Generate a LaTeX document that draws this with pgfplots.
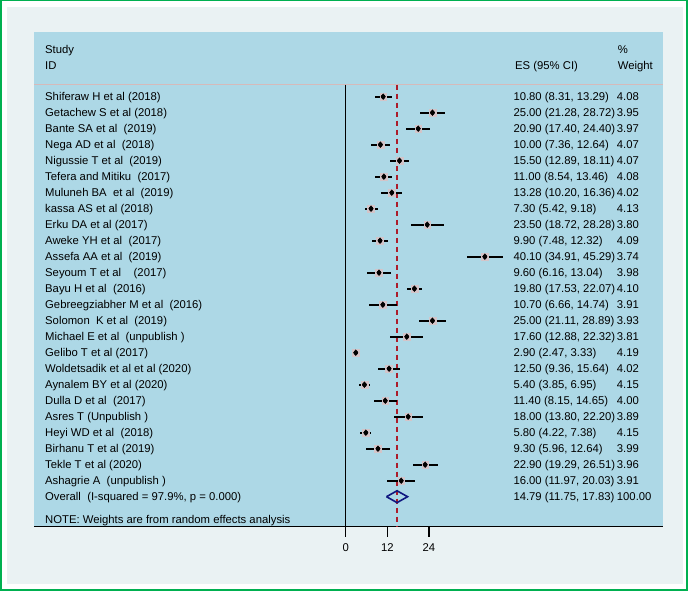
\documentclass[border=0pt]{standalone}
\usepackage{pgfplots}
\pgfplotsset{compat=1.18}
\usepackage{pgfplotstable}
\usepackage{fontspec}
\setmainfont{Liberation Sans}
\definecolor{frame}{RGB}{0,176,80}
\definecolor{outerbg}{RGB}{234,242,243}
\definecolor{panel}{RGB}{173,216,230}
\definecolor{sep}{RGB}{214,186,186}
\definecolor{wbox}{RGB}{212,196,200}
\definecolor{ovred}{RGB}{172,28,42}
\definecolor{ovdia}{RGB}{16,24,128}
\pgfplotstableread{
row es lo hi w
0 10.80 8.31 13.29 4.08
1 25.00 21.28 28.72 3.95
2 20.90 17.40 24.40 3.97
3 10.00 7.36 12.64 4.07
4 15.50 12.89 18.11 4.07
5 11.00 8.54 13.46 4.08
6 13.28 10.20 16.36 4.02
7 7.30 5.42 9.18 4.13
8 23.50 18.72 28.28 3.80
9 9.90 7.48 12.32 4.09
10 40.10 34.91 45.29 3.74
11 9.60 6.16 13.04 3.98
12 19.80 17.53 22.07 4.10
13 10.70 6.66 14.74 3.91
14 25.00 21.11 28.89 3.93
15 17.60 12.88 22.32 3.81
16 2.90 2.47 3.33 4.19
17 12.50 9.36 15.64 4.02
18 5.40 3.85 6.95 4.15
19 11.40 8.15 14.65 4.00
20 18.00 13.80 22.20 3.89
21 5.80 4.22 7.38 4.15
22 9.30 5.96 12.64 3.99
23 22.90 19.29 26.51 3.96
24 16.00 11.97 20.03 3.91
}\studies
\newcommand{\tf}{\fontsize{11.3}{13.5}\selectfont}
\begin{document}
\begin{tikzpicture}[x=1pt,y=1pt]
\useasboundingbox (0,0) rectangle (691,592);
\fill[white] (0,0) rectangle (691,592);
\draw[frame, line width=1.5pt] (0.75,2) rectangle (687,591.25);
\fill[outerbg] (7,8) rectangle (683,585);
\fill[panel] (34.3,65.3) rectangle (663.3,559.5);
\draw[sep, line width=0.9pt] (34.3,{592-84.5}) -- (663.3,{592-84.5});
\begin{axis}[
  at={(34.3pt,65.3pt)}, anchor=south west,
  scale only axis, width=629pt, height=494.2pt,
  xmin=-89.74, xmax=91.53, ymin=-4.01, ymax=26.875, y dir=reverse,
  clip=false,
  axis y line=none,
  axis x line*=bottom,
  x axis line style={-, line width=1.3pt, black},
  xtick={0,12,24},
  tick align=outside,
  major tick length=10pt,
  xtick style={black, line width=1.2pt},
  xticklabel style={font=\tf, yshift=-3pt},
  /pgf/number format/assume math mode=true,
]
% vertical null line
\addplot[black, line width=1.3pt] coordinates {(0,-0.76) (0,26.875)};
% overall dashed line
\addplot[draw=ovred, line width=1.1pt, dash pattern=on 5pt off 4pt] coordinates {(14.79,-0.76) (14.79,26.875)};
% weight boxes
\addplot[only marks, mark=square*, mark size=3.4pt, mark options={draw=wbox, fill=wbox}] table[x=es, y=row] {\studies};
% CIs
\addplot[black, mark=none, only marks, error bars/.cd, x dir=both, x explicit, error mark=none,
  error bar style={line width=2.1pt, draw=black}]
  table[x=es, y=row, x error plus expr={\thisrow{hi}-\thisrow{es}}, x error minus expr={\thisrow{es}-\thisrow{lo}}] {\studies};
% point estimates
\addplot[only marks, mark=diamond*, mark size=2.9pt, mark options={draw=black, fill=black}] table[x=es, y=row] {\studies};
% overall diamond
\addplot[draw=ovdia, line width=1.6pt] coordinates {(11.75,25) (14.79,24.63) (17.83,25) (14.79,25.37) (11.75,25)};
\end{axis}
\tf
\node[anchor=base west, inner sep=0] at (45,{592-50-4}) {Study};
\node[anchor=base west, inner sep=0] at (45,{592-65.7-4}) {ID};
\node[anchor=base west, inner sep=0] at (515,{592-65.7-4}) {ES (95\% CI)};
\node[anchor=base west, inner sep=0] at (617.7,{592-49.3-4}) {\%};
\node[anchor=base west, inner sep=0] at (617.7,{592-65.7-4}) {Weight};
\foreach \i/\nm/\es/\w in {
0/{Shiferaw H et al (2018)}/{10.80 (8.31, 13.29)}/4.08,
1/{Getachew S et al (2018)}/{25.00 (21.28, 28.72)}/3.95,
2/{Bante SA et al\ \ (2019)}/{20.90 (17.40, 24.40)}/3.97,
3/{Nega AD et al\ \ (2018)}/{10.00 (7.36, 12.64)}/4.07,
4/{Nigussie T et al\ \ (2019)}/{15.50 (12.89, 18.11)}/4.07,
5/{Tefera and Mitiku\ \ (2017)}/{11.00 (8.54, 13.46)}/4.08,
6/{Muluneh BA\ \ et al\ \ (2019)}/{13.28 (10.20, 16.36)}/4.02,
7/{kassa AS et al (2018)}/{7.30 (5.42, 9.18)}/4.13,
8/{Erku DA et al (2017)}/{23.50 (18.72, 28.28)}/3.80,
9/{Aweke YH et al\ \ (2017)}/{9.90 (7.48, 12.32)}/4.09,
10/{Assefa AA et al\ \ (2019)}/{40.10 (34.91, 45.29)}/3.74,
11/{Seyoum T et al\ \ \ \ (2017)}/{9.60 (6.16, 13.04)}/3.98,
12/{Bayu H et al\ \ (2016)}/{19.80 (17.53, 22.07)}/4.10,
13/{Gebreegziabher M et al\ \ (2016)}/{10.70 (6.66, 14.74)}/3.91,
14/{Solomon\ \ K et al\ \ (2019)}/{25.00 (21.11, 28.89)}/3.93,
15/{Michael E et al\ \ (unpublish )}/{17.60 (12.88, 22.32)}/3.81,
16/{Gelibo T et al (2017)}/{2.90 (2.47, 3.33)}/4.19,
17/{Woldetsadik et al et al (2020)}/{12.50 (9.36, 15.64)}/4.02,
18/{Aynalem BY et al (2020)}/{5.40 (3.85, 6.95)}/4.15,
19/{Dulla D et al\ \ (2017)}/{11.40 (8.15, 14.65)}/4.00,
20/{Asres T (Unpublish )}/{18.00 (13.80, 22.20)}/3.89,
21/{Heyi WD et al\ \ (2018)}/{5.80 (4.22, 7.38)}/4.15,
22/{Birhanu T et al (2019)}/{9.30 (5.96, 12.64)}/3.99,
23/{Tekle T et al (2020)}/{22.90 (19.29, 26.51)}/3.96,
24/{Ashagrie A\ \ (unpublish )}/{16.00 (11.97, 20.03)}/3.91,
25/{Overall\ \ (I-squared = 97.9\%, p = 0.000)}/{14.79 (11.75, 17.83)}/100.00}{
  \node[anchor=base west, inner sep=0] at (45,{592-96.7-16*\i-4}) {\nm};
  \node[anchor=base west, inner sep=0] at (513.3,{592-96.7-16*\i-4}) {\es};
  \node[anchor=base west, inner sep=0] at (616.7,{592-96.7-16*\i-4}) {\w};
}
\node[anchor=base west, inner sep=0] at (45,{592-519.3-4}) {NOTE: Weights are from random effects analysis};
\end{tikzpicture}
\end{document}
